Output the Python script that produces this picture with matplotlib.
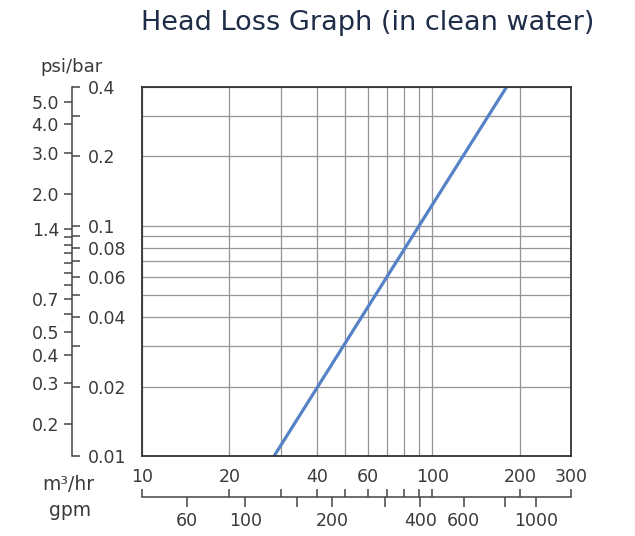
import matplotlib
matplotlib.use("Agg")
import matplotlib.pyplot as plt

# head loss curve (m3/hr vs bar)
flow_m3h = [28.5, 90, 180]
head_bar = [0.01, 0.1, 0.4]

bar_ticks = [0.01, 0.02, 0.03, 0.04, 0.05, 0.06, 0.07, 0.08, 0.09, 0.1, 0.2, 0.3, 0.4]
bar_labels = ['0.01', '0.02', '', '0.04', '', '0.06', '', '0.08', '', '0.1', '0.2', '', '0.4']

psi_ticks = [0.2, 0.3, 0.4, 0.5, 0.6, 0.7, 0.8, 0.9, 1.0, 1.1, 1.2, 1.3, 1.4, 2.0, 3.0, 4.0, 5.0]
psi_labels = ['0.2', '0.3', '0.4', '0.5', '', '0.7', '', '', '', '', '', '', '1.4', '2.0', '3.0', '4.0', '5.0']
PSI_PER_BAR = 14.5038

m3h_ticks = [10, 20, 30, 40, 50, 60, 70, 80, 90, 100, 200, 300]
m3h_labels = ['10', '20', '', '40', '', '60', '', '', '', '100', '200', '300']

gpm_labels = ['60', '100', '', '200', '', '400', '600', '', '1000']
gpm_at_m3h = [14.3, 22.7, 34.1, 45.2, 68.5, 90.8, 128, 178, 227]

plt.rcParams['font.family'] = ['DejaVu Sans']
txt = '#3a3a3a'
axc = '#444444'

W, H = 635, 536
fig = plt.figure(figsize=(6.35, 5.36), dpi=100)

x0, x1 = 142, 571
y0, y1 = 87, 456
left, width = x0 / W, (x1 - x0) / W
bottom, height = 1 - y1 / H, (y1 - y0) / H

# main grid area
ax = fig.add_axes([left, bottom, width, height])
ax.set_xscale('log')
ax.set_yscale('log')
ax.set_xlim(10, 300)
ax.set_ylim(0.01, 0.4)
ax.set_xticks(m3h_ticks)
ax.set_yticks(bar_ticks)
ax.minorticks_off()
ax.tick_params(length=0, labelbottom=False, labelleft=False)
ax.grid(True, color='#959595', linewidth=0.9)
for s in ax.spines.values():
    s.set_color('#333333')
    s.set_linewidth(1.3)
ax.plot(flow_m3h, head_bar, color='#5582c6', linewidth=2.3, solid_capstyle='butt')

# left scale: psi on left side, bar on right side
axl = fig.add_axes([71.5 / W, bottom, 0.0001, height])
axl.set_yscale('log')
axl.set_ylim(0.01, 0.4)
axl.set_xticks([])
for k in ['top', 'bottom', 'right']:
    axl.spines[k].set_visible(False)
axl.spines['left'].set_color(axc)
axl.spines['left'].set_linewidth(1.1)
axl.set_yticks([p / PSI_PER_BAR for p in psi_ticks])
axl.set_yticklabels(psi_labels)
axl.minorticks_off()
axl.tick_params(axis='y', direction='out', length=6, width=1.1, color=axc,
                labelsize=12.5, labelcolor=txt, pad=3)

axr = axl.twinx()
axr.set_yscale('log')
axr.set_ylim(0.01, 0.4)
for s in axr.spines.values():
    s.set_visible(False)
axr.set_yticks(bar_ticks)
axr.set_yticklabels(bar_labels)
axr.minorticks_off()
axr.tick_params(axis='y', direction='out', length=6, width=1.1, color=axc,
                labelsize=12.5, labelcolor=txt, pad=6)

# bottom scale: m3/hr above the line, gpm below
yb = 497
axb = fig.add_axes([left, 1 - yb / H, width, 0.0001])
axb.set_xscale('log')
axb.set_xlim(10, 300)
axb.set_yticks([])
axg = axb.twiny()

for k in ['left', 'right', 'bottom']:
    axb.spines[k].set_visible(False)
axb.spines['top'].set_color(axc)
axb.spines['top'].set_linewidth(1.1)
axb.xaxis.tick_top()
axb.set_xticks(m3h_ticks)
axb.set_xticklabels(m3h_labels)
axb.minorticks_off()
axb.tick_params(axis='x', direction='out', length=6, width=1.1, color=axc,
                labelsize=12.5, labelcolor=txt, pad=2)

axg.set_xscale('log')
axg.set_xlim(10, 300)
for s in axg.spines.values():
    s.set_visible(False)
axg.xaxis.tick_bottom()
axg.set_xticks(gpm_at_m3h)
axg.set_xticklabels(gpm_labels)
axg.minorticks_off()
axg.tick_params(axis='x', direction='out', length=7, width=1.1, color=axc,
                labelsize=12.5, labelcolor=txt, pad=4)

fig.text(72 / W, 1 - 67 / H, 'psi/bar', ha='center', va='center', fontsize=13, color=txt)
fig.text(68 / W, 1 - 484 / H, 'm³/hr', ha='center', va='center', fontsize=13.5, color=txt)
fig.text(70 / W, 1 - 511 / H, 'gpm', ha='center', va='center', fontsize=13.5, color=txt)
fig.text(368 / W, 1 - 23 / H, 'Head Loss Graph (in clean water)', ha='center', va='center',
         fontsize=19.5, color='#1f2e48')

fig.savefig('out.png', dpi=100)
